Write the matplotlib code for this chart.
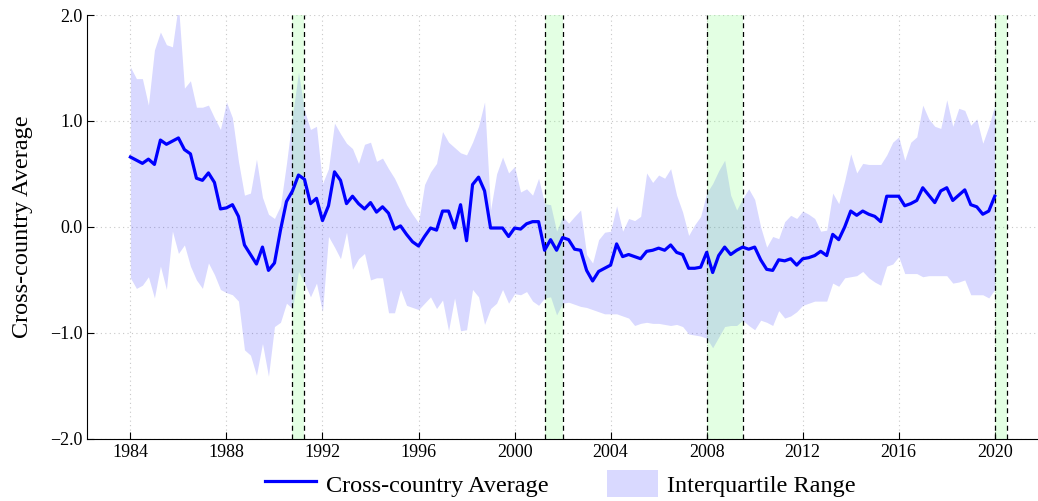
import numpy as np
import matplotlib
matplotlib.use("Agg")
import matplotlib.pyplot as plt
from matplotlib.patches import Patch
from matplotlib.lines import Line2D

plt.rcParams['font.family'] = ['Liberation Serif', 'DejaVu Serif']

# quarterly, 1984Q1 .. 2020Q1
start_year = 1984
avg = [
    0.66, 0.63, 0.60, 0.64,  0.59, 0.82, 0.78, 0.81,  0.84, 0.73, 0.69, 0.46,
    0.44, 0.51, 0.42, 0.17,  0.18, 0.21, 0.10, -0.17, -0.26, -0.35, -0.19, -0.41,
    -0.34, -0.03, 0.24, 0.34,  0.49, 0.45, 0.22, 0.27,  0.06, 0.20, 0.52, 0.44,
    0.22, 0.29, 0.22, 0.17,  0.23, 0.14, 0.19, 0.13,  -0.02, 0.01, -0.07, -0.14,
    -0.18, -0.09, -0.01, -0.03,  0.15, 0.15, -0.01, 0.21,  -0.13, 0.40, 0.47, 0.34,
    -0.01, -0.01, -0.01, -0.09,  -0.01, -0.02, 0.03, 0.05,  0.05, -0.22, -0.12, -0.22,
    -0.10, -0.12, -0.21, -0.22,  -0.41, -0.51, -0.42, -0.39,  -0.36, -0.16, -0.28, -0.26,
    -0.28, -0.30, -0.23, -0.22,  -0.20, -0.22, -0.17, -0.24,  -0.26, -0.39, -0.39, -0.38,
    -0.24, -0.43, -0.27, -0.19,  -0.26, -0.22, -0.19, -0.21,  -0.19, -0.31, -0.40, -0.41,
    -0.31, -0.32, -0.30, -0.36,  -0.30, -0.29, -0.27, -0.23,  -0.27, -0.07, -0.12, 0.00,
    0.15, 0.11, 0.15, 0.12,  0.10, 0.05, 0.29, 0.29,  0.29, 0.20, 0.22, 0.25,
    0.37, 0.30, 0.23, 0.34,  0.37, 0.25, 0.30, 0.35,  0.21, 0.19, 0.12, 0.15,
    0.29,
]
p75 = [
    1.51, 1.40, 1.40, 1.15,  1.67, 1.84, 1.72, 1.70,  2.10, 1.31, 1.38, 1.13,
    1.13, 1.15, 1.03, 0.92,  1.18, 1.03, 0.62, 0.30,  0.32, 0.64, 0.28, 0.12,
    0.08, 0.20, 0.60, 1.05,  1.46, 1.10, 0.92, 0.95,  0.41, 0.55, 0.98, 0.88,
    0.79, 0.74, 0.60, 0.78,  0.80, 0.62, 0.65, 0.55,  0.46, 0.34, 0.21, 0.12,
    0.04, 0.40, 0.52, 0.60,  0.90, 0.80, 0.75, 0.70,  0.68, 0.80, 0.95, 1.18,
    0.16, 0.50, 0.66, 0.51,  0.57, 0.33, 0.36, 0.30,  0.46, 0.22, 0.21, -0.04,
    0.10, 0.035, 0.10, 0.16,  -0.26, -0.34, -0.12, -0.05,  -0.04, 0.20, -0.04, 0.08,
    0.06, 0.10, 0.51, 0.42,  0.49, 0.46, 0.55, 0.30,  0.14, -0.08, 0.02, 0.10,
    0.32, 0.41, 0.53, 0.63,  0.30, 0.16, 0.27, 0.36,  0.26, 0.00, -0.19, -0.09,
    -0.11, 0.05, 0.11, 0.08,  0.15, 0.12, 0.08, -0.04,  -0.03, 0.32, 0.22, 0.44,
    0.69, 0.51, 0.60, 0.59,  0.59, 0.59, 0.68, 0.80,  0.85, 0.63, 0.80, 0.85,
    1.15, 1.02, 0.95, 0.93,  1.20, 0.95, 1.12, 1.10,  0.96, 1.02, 0.79, 0.95,
    1.15,
]
p25 = [
    -0.48, -0.58, -0.55, -0.47,  -0.67, -0.37, -0.59, -0.04,  -0.25, -0.17, -0.37, -0.50,
    -0.58, -0.34, -0.45, -0.59,  -0.62, -0.64, -0.70, -1.16,  -1.21, -1.40, -1.10, -1.41,
    -0.94, -0.90, -0.72, -0.77,  -0.42, -0.53, -0.66, -0.53,  -0.80, -0.09, -0.19, -0.30,
    -0.05, -0.40, -0.30, -0.25,  -0.50, -0.48, -0.48, -0.81,  -0.81, -0.59, -0.74, -0.76,
    -0.78, -0.72, -0.66, -0.77,  -0.69, -0.98, -0.67, -0.98,  -0.97, -0.59, -0.66, -0.92,
    -0.77, -0.72, -0.59, -0.72,  -0.63, -0.64, -0.61, -0.70,  -0.74, -0.67, -0.66, -0.83,
    -0.72, -0.71, -0.73, -0.75,  -0.76, -0.78, -0.80, -0.82,  -0.82, -0.82, -0.84, -0.86,
    -0.93, -0.91, -0.90, -0.91,  -0.91, -0.92, -0.93, -0.92,  -0.94, -1.01, -1.02, -1.03,
    -1.05, -1.14, -1.04, -0.94,  -0.93, -0.93, -0.88, -0.93,  -0.97, -0.88, -0.90, -0.93,
    -0.79, -0.86, -0.84, -0.80,  -0.74, -0.72, -0.70, -0.70,  -0.70, -0.53, -0.56, -0.48,
    -0.47, -0.46, -0.42, -0.48,  -0.52, -0.55, -0.37, -0.35,  -0.28, -0.44, -0.44, -0.44,
    -0.47, -0.46, -0.46, -0.46,  -0.46, -0.53, -0.52, -0.50,  -0.64, -0.64, -0.64, -0.67,
    -0.59,
]
recessions = [(1990.75, 1991.25), (2001.25, 2002.0), (2008.0, 2009.5), (2020.0, 2020.5)]
xticks = list(range(1984, 2021, 4))
yticks = [-2.0, -1.0, 0.0, 1.0, 2.0]

t = start_year + np.arange(len(avg)) / 4.0

fig = plt.figure(figsize=(10.38, 5.01), dpi=100)
ax = fig.add_axes([0.084, 0.124, 0.916, 0.846])

ax.fill_between(t, p25, p75, color=(0, 0, 1), alpha=0.15, lw=0, zorder=1)
for a, b in recessions:
    ax.axvspan(a, b, color=(0.5, 1, 0.5), alpha=0.22, lw=0, zorder=2)
    ax.axvline(a, color='black', ls=(0, (4, 3)), lw=0.9, zorder=3)
    ax.axvline(b, color='black', ls=(0, (4, 3)), lw=0.9, zorder=3)
ax.plot(t, avg, color='#0000ff', lw=2.3, zorder=4)

ax.set_xlim(1982.2, 2021.8)
ax.set_ylim(-2.0, 2.0)
ax.set_xticks(xticks)
ax.set_yticks(yticks)
ax.set_yticklabels([f"{v:.1f}".replace('-', '\u2212') for v in yticks])
ax.tick_params(direction='in', labelsize=13, length=5, width=0.8)
ax.grid(True, ls=(0, (1, 3)), color='#c8c8c8', lw=0.8)
ax.set_axisbelow(True)
for s in ['top', 'right']:
    ax.spines[s].set_visible(False)
ax.set_ylabel('Cross-country Average', fontsize=17.5, labelpad=12)

handles = [Line2D([], [], color='#0000ff', lw=2.3),
           Patch(facecolor=(0, 0, 1), alpha=0.15, lw=0)]
fig.legend(handles, ['Cross-country Average', 'Interquartile Range'],
           loc='lower center', bbox_to_anchor=(0.54, -0.035), ncol=2,
           frameon=False, fontsize=17.5, handlelength=2.1, handleheight=1.3,
           columnspacing=2.4, handletextpad=0.4)

fig.savefig('out.png', dpi=100)
